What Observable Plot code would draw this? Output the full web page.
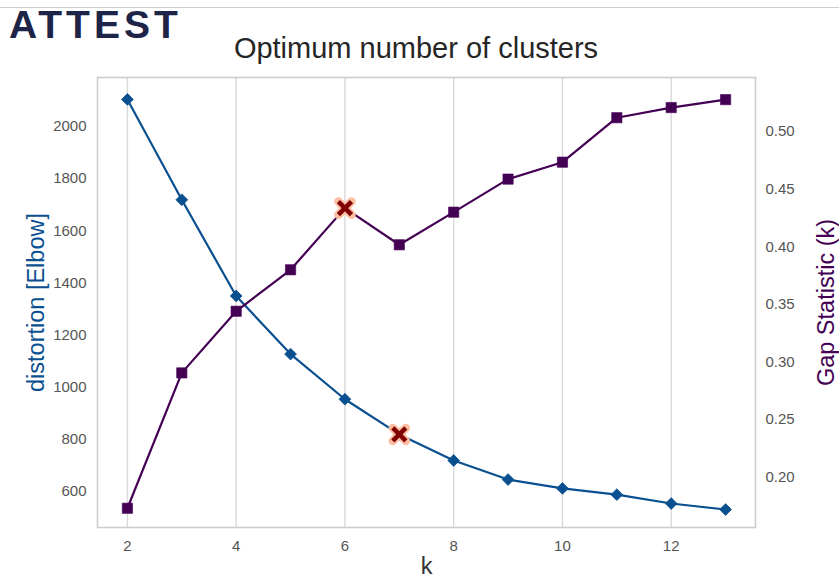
<!DOCTYPE html>
<html>
<head>
<meta charset="utf-8">
<script src="https://cdn.jsdelivr.net/npm/d3@7"></script>
<script src="https://cdn.jsdelivr.net/npm/@observablehq/plot@0.6"></script>
<style>
html, body { margin: 0; padding: 0; background: #fff; }
#wrap { position: relative; width: 839px; height: 578px; overflow: hidden; font-family: "Liberation Sans", Arial, sans-serif; background: #fff; }
#topline { position: absolute; left: 0; top: 7px; width: 839px; height: 0; border-top: 1px solid #cfcfcf; }
#logo { position: absolute; left: 9px; top: 5px; font: bold 39px "Liberation Sans", Arial, sans-serif; letter-spacing: 4px; color: #1d2447; line-height: 1; }
#title { position: absolute; left: 0; width: 832px; top: 34px; text-align: center; font-size: 29px; color: #262626; line-height: 1; }
#chart { position: absolute; left: 0; top: 60px; width: 839px; height: 518px; }
#chart svg { position: absolute; left: 0; top: 0; }
</style>
</head>
<body>
<div id="wrap">
  <div id="topline"></div>
  <div id="logo">ATTEST</div>
  <div id="title">Optimum number of clusters</div>
  <div id="chart"></div>
</div>
<script>
// ---- data ----
const kValues = [2, 3, 4, 5, 6, 7, 8, 9, 10, 11, 12, 13];
const distortion = [2104, 1719, 1350, 1127, 954, 819, 719, 646, 612, 588, 554, 531];
const gapStatistic = [0.173, 0.2905, 0.344, 0.380, 0.4335, 0.4017, 0.430, 0.4587, 0.4734, 0.512, 0.5208, 0.5277];
const elbowOptimumK = 7;
const gapOptimumK = 6;
const xTicks = [2, 4, 6, 8, 10, 12];
const leftTicks = [600, 800, 1000, 1200, 1400, 1600, 1800, 2000];
const rightTicks = [0.20, 0.25, 0.30, 0.35, 0.40, 0.45, 0.50];
const titleText = "Optimum number of clusters";
const leftLabel = "distortion [Elbow]";
const rightLabel = "Gap Statistic (k)";
const xLabel = "k";

// ---- styles ----
const blue = "#0a4f8f";
const purple = "#440154";
const xDark = "#7f0000";
const xHalo = "#fcbfa3";
const font = "'Liberation Sans', Arial, sans-serif";

document.getElementById("title").textContent = titleText;

const elbowRows = kValues.map((k, i) => ({k, v: distortion[i]}));
const gapRows = kValues.map((k, i) => ({k, v: gapStatistic[i]}));

const common = {
  width: 839, height: 518,
  marginTop: 17, marginBottom: 51, marginLeft: 97, marginRight: 84
};
const xDomain = [1.45, 13.55];

const p1 = Plot.plot({
  ...common,
  style: {fontFamily: font, fontSize: "15px", color: "#555", background: "transparent", overflow: "visible"},
  x: {domain: xDomain, axis: null},
  y: {domain: [462, 2188], axis: null},
  marks: [
    Plot.gridX(xTicks, {stroke: "#d9d9d9", strokeOpacity: 1, strokeWidth: 1.4}),
    Plot.frame({stroke: "#cccccc", strokeWidth: 1.6}),
    Plot.axisX(xTicks, {tickSize: 0, tickPadding: 13, label: null, fill: "#555", fontSize: 15, tickFormat: d3.format("d")}),
    Plot.axisY(leftTicks, {tickSize: 0, tickPadding: 11, label: null, fill: "#555", fontSize: 15, tickFormat: d3.format("d")}),
    Plot.line(elbowRows, {x: "k", y: "v", stroke: blue, strokeWidth: 2.2}),
    Plot.dot(elbowRows, {x: "k", y: "v", symbol: d3.symbolDiamond2, r: 5.3, fill: blue, stroke: blue, strokeWidth: 0.8}),
    Plot.dot(elbowRows.filter(d => d.k === elbowOptimumK), {x: "k", y: "v", symbol: "times", r: 6, stroke: xHalo, strokeWidth: 8.5, strokeLinecap: "round"}),
    Plot.dot(elbowRows.filter(d => d.k === elbowOptimumK), {x: "k", y: "v", symbol: "times", r: 6, stroke: xDark, strokeWidth: 4.5}),
    Plot.text([leftLabel], {text: d => d, frameAnchor: "left", dx: -61, rotate: -90, fill: blue, fontSize: 23.5, textAnchor: "middle", lineAnchor: "middle"}),
    Plot.text([xLabel], {text: d => d, frameAnchor: "bottom", dy: 39, fill: "#333", fontSize: 23.5, textAnchor: "middle", lineAnchor: "middle"})
  ]
});

const p2 = Plot.plot({
  ...common,
  style: {fontFamily: font, fontSize: "15px", color: "#555", background: "transparent", overflow: "visible"},
  x: {domain: xDomain, axis: null},
  y: {domain: [0.1563, 0.5469], axis: null},
  marks: [
    Plot.axisY(rightTicks, {anchor: "right", tickSize: 0, tickPadding: 10, label: null, tickFormat: d3.format(".2f"), fill: "#555", fontSize: 15}),
    Plot.line(gapRows, {x: "k", y: "v", stroke: purple, strokeWidth: 2.2}),
    Plot.dot(gapRows, {x: "k", y: "v", symbol: "square", r: 5.8, fill: purple, stroke: purple, strokeWidth: 0.6}),
    Plot.dot(gapRows.filter(d => d.k === gapOptimumK), {x: "k", y: "v", symbol: "times", r: 6, stroke: xHalo, strokeWidth: 8.5, strokeLinecap: "round"}),
    Plot.dot(gapRows.filter(d => d.k === gapOptimumK), {x: "k", y: "v", symbol: "times", r: 6, stroke: xDark, strokeWidth: 4.5}),
    Plot.text([rightLabel], {text: d => d, frameAnchor: "right", dx: 71, rotate: -90, fill: purple, fontSize: 23.5, textAnchor: "middle", lineAnchor: "middle"})
  ]
});

const chart = document.getElementById("chart");
chart.appendChild(p1);
chart.appendChild(p2);
</script>
</body>
</html>
